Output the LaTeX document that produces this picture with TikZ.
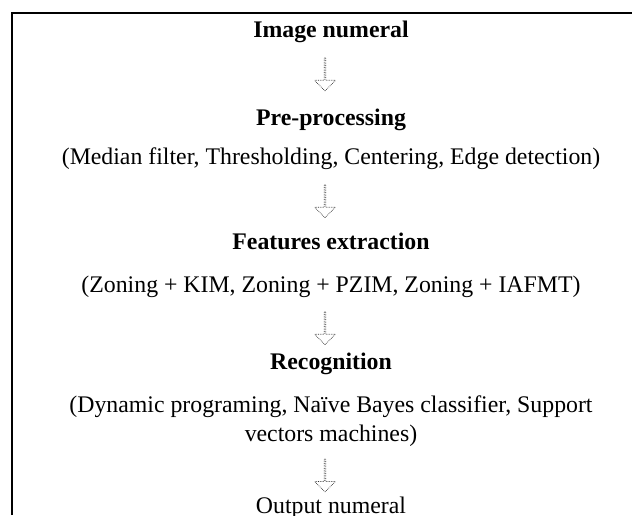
\documentclass[tikz,border=0pt]{standalone}
\usepackage{fontspec}
\setmainfont{Liberation Serif}
\usetikzlibrary{shapes.arrows,positioning,calc}

\begin{document}
\begin{tikzpicture}[x=1pt,y=1pt,
    stage/.style={font=\fontsize{23.8}{29}\selectfont\bfseries, inner sep=0pt, anchor=base},
    method/.style={font=\fontsize{23.8}{29}\selectfont, inner sep=0pt, align=center},
    flowarrow/.style={single arrow, draw=black!80, densely dotted, line width=0.7pt,
        minimum height=33pt, minimum width=21pt, single arrow head extend=5pt,
        single arrow tip angle=90, shape border rotate=270, inner sep=0pt}]
    % page and frame
    \clip (0,0) rectangle (632,-515);
    \draw[line width=2pt] (12,-515) -- (12,-13) -- (632,-13);

    % stages of the recognition chain
    \node[stage] (img) at (331,-37) {Image numeral};
    \node[stage] (pre) at (331,-125) {Pre-processing};
    \node[method, anchor=base] (prem) at (331,-164) {(Median filter, Thresholding, Centering, Edge detection)};
    \node[stage] (feat) at (331,-249) {Features extraction};
    \node[method, anchor=base] (featm) at (331,-292) {(Zoning + KIM, Zoning + PZIM, Zoning + IAFMT)};
    \node[stage] (rec) at (331,-369) {Recognition};
    \node[method] (recm) at (331,-421) {(Dynamic programing, Naïve Bayes classifier, Support\\vectors machines)};
    \node[method, anchor=base] (out) at (331,-513) {Output numeral};

    % block arrows between the stages
    \node[flowarrow, below=15pt of img, xshift=-6pt] (a1) {};
    \node[flowarrow, below=15pt of prem, xshift=-6pt] (a2) {};
    \node[flowarrow, below=14pt of featm, xshift=-6pt] (a3) {};
    \node[flowarrow, below=12pt of recm, xshift=-6pt] (a4) {};
\end{tikzpicture}
\end{document}
